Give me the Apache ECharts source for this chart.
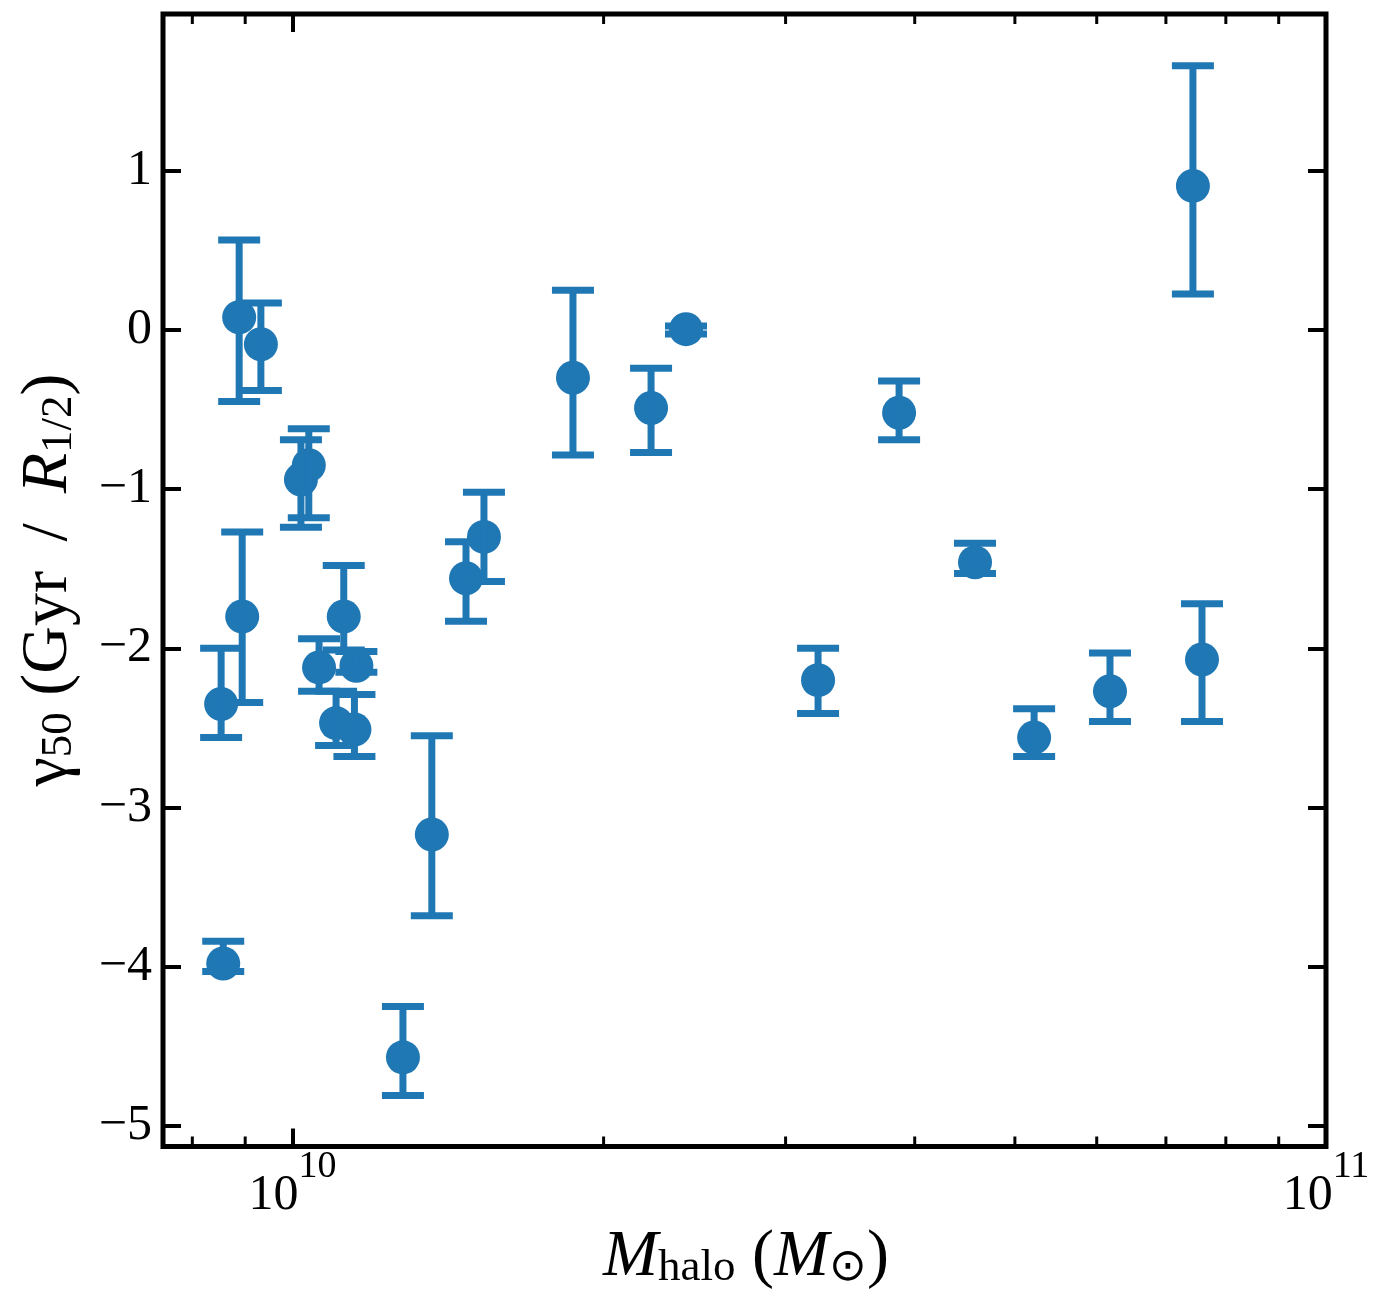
<!DOCTYPE html>
<html><head><meta charset="utf-8">
<script src="https://cdn.jsdelivr.net/npm/echarts@6/dist/echarts.min.js"></script>
<style>html,body{margin:0;padding:0;background:#fff}#c{width:1384px;height:1310px}</style>
</head><body><div id="c"></div>
<script>
// ---- data ----
const haloMass   = [8.53e9, 8.57e9, 8.88e9, 9.32e9, 8.94e9, 1.019e10, 1.037e10, 1.061e10, 1.102e10, 1.121e10, 1.148e10, 1.153e10, 1.279e10, 1.364e10, 1.472e10, 1.532e10, 1.868e10, 2.223e10, 2.403e10, 3.225e10, 3.863e10, 4.575e10, 5.219e10, 6.18e10, 7.434e10, 7.586e10];
const gamma50    = [-2.35, -3.98, 0.08, -0.09, -1.80, -0.94, -0.85, -2.12, -2.47, -1.80, -2.51, -2.11, -4.57, -3.17, -1.56, -1.30, -0.30, -0.49, 0.005, -2.20, -0.52, -1.46, -2.56, -2.27, 0.905, -2.07];
const gammaUpper = [-2.00, -3.84, 0.565, 0.17, -1.27, -0.69, -0.62, -1.94, -2.27, -1.48, -2.29, -2.02, -4.25, -2.55, -1.33, -1.02, 0.25, -0.24, 0.025, -2.00, -0.32, -1.34, -2.38, -2.03, 1.66, -1.72];
const gammaLower = [-2.56, -4.03, -0.45, -0.38, -2.34, -1.24, -1.18, -2.27, -2.61, -2.01, -2.68, -2.15, -4.81, -3.68, -1.83, -1.58, -0.785, -0.77, -0.025, -2.41, -0.69, -1.53, -2.68, -2.46, 0.226, -2.46];
const minorTickMass = [8e9, 9e9, 2e10, 3e10, 4e10, 5e10, 6e10, 7e10, 8e10, 9e10];
const xMin = 7.494e9, xMax = 1e11;
const yMin = -5.13, yMax = 1.985;

const C0 = '#1f77b4';
const FONT = '"Liberation Serif", "Times New Roman", serif';

const chart = echarts.init(document.getElementById('c'), null, {renderer: 'canvas'});

const tickStyle = {inside: true, length: 18, lineStyle: {color: '#000', width: 4}};
const noLine = {show: false, onZero: false};

function xLabel(v) {
  const e = Math.log10(v);
  if (Math.abs(e - Math.round(e)) > 1e-6) return '';
  return '{b|10}{s|' + Math.round(e) + '}';
}
function yLabel(v) {
  if (Math.abs(v - Math.round(v)) > 1e-6) return '';
  const r = Math.round(v);
  return r < 0 ? '\u2212' + (-r) : String(r);
}

const titleRich = {
  m: {fontSize: 66, fontFamily: FONT, color: '#000', lineHeight: 74, verticalAlign: 'bottom'},
  mi: {fontSize: 66, fontFamily: FONT, fontStyle: 'italic', color: '#000', lineHeight: 74, verticalAlign: 'bottom'},
  sub: {fontSize: 45, fontFamily: FONT, color: '#000', lineHeight: 34, verticalAlign: 'bottom'}
};

const option = {
  animation: false,
  backgroundColor: '#fff',
  grid: {left: 163, right: 58, top: 14, bottom: 163.5, show: true, borderColor: '#000', borderWidth: 5, backgroundColor: 'transparent'},
  xAxis: [
    {type: 'log', logBase: 10, min: xMin, max: xMax, position: 'bottom',
     axisLine: noLine, splitLine: {show: false}, axisTick: tickStyle,
     axisLabel: {margin: 2, formatter: xLabel, showMinLabel: false, showMaxLabel: true,
       rich: {
         b: {fontSize: 50, fontFamily: FONT, color: '#000', lineHeight: 72, verticalAlign: 'bottom'},
         s: {fontSize: 38, fontFamily: FONT, color: '#000', lineHeight: 38, verticalAlign: 'top'}
       }}},
    {type: 'log', logBase: 10, min: xMin, max: xMax, position: 'top',
     axisLine: noLine, splitLine: {show: false}, axisTick: tickStyle, axisLabel: {show: false}}
  ],
  yAxis: [
    {type: 'value', min: yMin, max: yMax, minInterval: 1, maxInterval: 1, position: 'left',
     axisLine: noLine, splitLine: {show: false}, axisTick: tickStyle,
     axisLabel: {margin: 11, fontSize: 50, fontFamily: FONT, color: '#000', formatter: yLabel, showMinLabel: false, showMaxLabel: false}},
    {type: 'value', min: yMin, max: yMax, minInterval: 1, maxInterval: 1, position: 'right',
     axisLine: noLine, splitLine: {show: false}, axisTick: tickStyle, axisLabel: {show: false}}
  ],
  series: [
    {type: 'scatter', xAxisIndex: 0, yAxisIndex: 0, z: 2,
     data: haloMass.map((m, i) => [m, gamma50[i]]),
     symbol: 'circle', symbolSize: 34, itemStyle: {color: C0, opacity: 1}},
    {type: 'custom', xAxisIndex: 0, yAxisIndex: 0, z: 3,
     data: haloMass.map((m, i) => [m, gammaLower[i], gammaUpper[i]]),
     encode: {x: 0, y: [1, 2]},
     renderItem: function (params, api) {
       const x = api.value(0);
       const pLo = api.coord([x, api.value(1)]);
       const pHi = api.coord([x, api.value(2)]);
       const half = 21;
       const st = {stroke: C0, lineWidth: 7, fill: null};
       return {type: 'group', children: [
         {type: 'line', shape: {x1: pHi[0], y1: pHi[1], x2: pLo[0], y2: pLo[1]}, style: st},
         {type: 'line', shape: {x1: pHi[0] - half, y1: pHi[1], x2: pHi[0] + half, y2: pHi[1]}, style: st},
         {type: 'line', shape: {x1: pLo[0] - half, y1: pLo[1], x2: pLo[0] + half, y2: pLo[1]}, style: st}
       ]};
     }},
    {type: 'custom', xAxisIndex: 0, yAxisIndex: 0, z: 4, silent: true,
     data: minorTickMass.map(m => [m, yMin]),
     encode: {x: 0, y: 1},
     renderItem: function (params, api) {
       const x = api.value(0);
       const b = api.coord([x, yMin]);
       const t = api.coord([x, yMax]);
       const st = {stroke: '#000', lineWidth: 3};
       return {type: 'group', children: [
         {type: 'line', shape: {x1: b[0], y1: b[1], x2: b[0], y2: b[1] - 10}, style: st},
         {type: 'line', shape: {x1: t[0], y1: t[1], x2: t[0], y2: t[1] + 10}, style: st}
       ]};
     }}
  ],
  graphic: [
    {type: 'text', x: 746, y: 1254, z: 10,
     style: {text: '{mi|M}{sub|halo}{m| (}{mi|M}{sub|\u2299}{m|)}', align: 'center', verticalAlign: 'middle', rich: titleRich}},
    {type: 'text', x: 45, y: 580, rotation: Math.PI / 2, z: 10,
     style: {text: '{m|\u03b3}{sub|50}{m| (Gyr \u2009/\u2009 }{mi|R}{sub|1/2}{m|)}', align: 'center', verticalAlign: 'middle', rich: titleRich}}
  ]
};
chart.setOption(option);
</script>
</body></html>
